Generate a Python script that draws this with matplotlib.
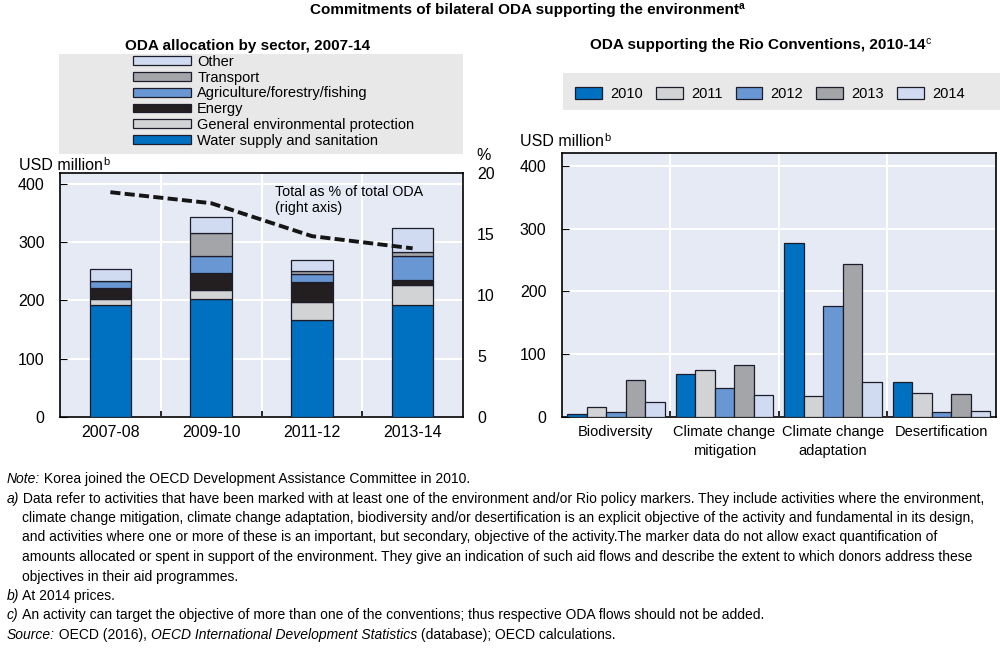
import matplotlib
matplotlib.use('Agg')
import matplotlib.pyplot as plt
import numpy as np
from matplotlib.patches import Rectangle
from matplotlib.transforms import IdentityTransform

# dados - painel esquerdo (USD milhoes, precos de 2014)
periodos = ['2007-08', '2009-10', '2011-12', '2013-14']
agua = [193, 202, 167, 192]
protecao_geral = [10, 16, 30, 35]
energia = [18, 30, 35, 8]
agricultura = [12, 28, 14, 42]
transporte = [1, 40, 5, 7]
outros = [21, 27, 19, 41]
pct_total_oda = [18.4, 17.5, 14.8, 13.8]

# dados - painel direito (Convencoes do Rio)
convencoes = ['Biodiversity', 'Climate change\nmitigation', 'Climate change\nadaptation', 'Desertification']
anos = ['2010', '2011', '2012', '2013', '2014']
v2010 = [5, 68, 277, 55]
v2011 = [16, 74, 33, 38]
v2012 = [7, 46, 177, 8]
v2013 = [58, 83, 244, 36]
v2014 = [23, 34, 56, 9]

W, H = 1000, 648

AZUL = '#0070c0'
CINZA_CLARO = '#d2d3d4'
PRETO = '#231f20'
AZUL_MEDIO = '#6897d3'
CINZA = '#a3a5a8'
LAVANDA = '#d0dbf1'
FUNDO = '#e5eaf5'
FUNDO_LEG = '#e8e8e8'
BORDA = '#1c1c2a'

plt.rcParams['font.family'] = ['Liberation Sans', 'DejaVu Sans']
plt.rcParams['axes.linewidth'] = 1.2


def linha_texto(fig, x, y, partes, ha='left'):
    # desenha pedacos de texto em sequencia (y em pixels a partir do topo)
    rend = fig.canvas.get_renderer()
    textos = []
    pos = 0
    for s, est in partes:
        est = dict(est)
        dy = est.pop('dy', 0)
        t = fig.text(0, H - y + dy, s, transform=IdentityTransform(), va='center', **est)
        larg = t.get_window_extent(rend).width
        textos.append((t, pos, dy))
        pos += larg
    x0 = x - pos / 2 if ha == 'center' else x
    for t, p, dy in textos:
        t.set_position((x0 + p, H - y + dy))


def estilo_eixo(ax, tam_x=11.5):
    ax.set_facecolor(FUNDO)
    ax.set_xlim(-0.5, 3.5)
    ax.set_ylim(0, 420)
    ax.set_yticks([0, 100, 200, 300, 400])
    ax.tick_params(axis='y', direction='in', length=5, pad=11, labelsize=11.5)
    ax.set_xticks(np.arange(4))
    ax.tick_params(axis='x', which='major', length=0, pad=6, labelsize=tam_x)
    ax.set_xticks([0.5, 1.5, 2.5], minor=True)
    ax.tick_params(axis='x', which='minor', direction='in', length=4, width=1.2)
    ax.grid(axis='y', color='white', linewidth=1.5, zorder=0)
    ax.grid(axis='x', which='minor', color='white', linewidth=1.5, zorder=0)
    ax.set_axisbelow(True)
    for sp in ax.spines.values():
        sp.set_color('black')


fig = plt.figure(figsize=(10, 6.48), dpi=100)

# ---- painel esquerdo: barras empilhadas ----
ax1 = fig.add_axes([0.060, 0.357, 0.403, 0.3765])
estilo_eixo(ax1)
x = np.arange(len(periodos))
series = [
    (agua, 'Water supply and sanitation', AZUL),
    (protecao_geral, 'General environmental protection', CINZA_CLARO),
    (energia, 'Energy', PRETO),
    (agricultura, 'Agriculture/forestry/fishing', AZUL_MEDIO),
    (transporte, 'Transport', CINZA),
    (outros, 'Other', LAVANDA),
]
base = np.zeros(len(periodos))
handles1 = []
for vals, rotulo, cor in series:
    b = ax1.bar(x, vals, 0.41, bottom=base, color=cor, edgecolor=BORDA,
                linewidth=0.9, label=rotulo, zorder=3)
    handles1.append(b)
    base += np.array(vals)
ax1.set_xticklabels(periodos)

ax1b = ax1.twinx()
ax1b.plot(x, pct_total_oda, color='#151515', linewidth=2.8, dashes=(2.6, 1.1),
          solid_capstyle='butt', dash_capstyle='butt')
ax1b.set_ylim(0, 20)
ax1b.set_yticks([0, 5, 10, 15, 20])
ax1b.tick_params(axis='y', length=0, pad=10, labelsize=11.5)
for sp in ax1b.spines.values():
    sp.set_visible(False)
ax1b.text(1.63, 19.0, 'Total as % of total ODA\n(right axis)', fontsize=10.3,
          va='top', ha='left', linespacing=1.2)

# ---- painel direito: barras agrupadas ----
ax2 = fig.add_axes([0.5617, 0.357, 0.434, 0.4064])
estilo_eixo(ax2, tam_x=10.5)
valores_anos = [v2010, v2011, v2012, v2013, v2014]
cores_anos = [AZUL, CINZA_CLARO, AZUL_MEDIO, CINZA, LAVANDA]
larg = 0.18
handles2 = []
for i, (vals, cor, ano) in enumerate(zip(valores_anos, cores_anos, anos)):
    b = ax2.bar(x + (i - 2) * larg, vals, larg, color=cor, edgecolor=BORDA,
                linewidth=0.9, label=ano, zorder=3)
    handles2.append(b)
ax2.set_xticklabels(convencoes, linespacing=1.45)

# ---- legendas ----
fig.add_artist(Rectangle((0.059, 1 - 154 / H), 0.404, 100 / H, transform=fig.transFigure,
                         facecolor=FUNDO_LEG, edgecolor='none', zorder=0))
fig.legend(handles1[::-1], [s[1] for s in series][::-1], loc='upper left',
           bbox_to_anchor=(0.133, 1 - 55 / H), frameon=False, fontsize=10.5,
           handlelength=4.0, handleheight=0.55, handletextpad=0.4,
           labelspacing=0.12, borderpad=0, borderaxespad=0)

fig.add_artist(Rectangle((0.563, 1 - 110 / H), 0.437, 37 / H, transform=fig.transFigure,
                         facecolor=FUNDO_LEG, edgecolor='none', zorder=0))
fig.legend(handles2, anos, loc='center left', ncol=5,
           bbox_to_anchor=(0.575, 1 - 94 / H), frameon=False, fontsize=10.5,
           handlelength=1.85, handleheight=0.9, handletextpad=0.55,
           columnspacing=0.9, borderpad=0, borderaxespad=0)

# ---- titulos ----
sup = {'fontsize': 7.5, 'dy': 4}
linha_texto(fig, 527, 10, [('Commitments of bilateral ODA supporting the environment',
                            {'fontsize': 11, 'fontweight': 'bold'}),
                           ('a', dict(sup, fontweight='bold'))], ha='center')
linha_texto(fig, 248, 46, [('ODA allocation by sector, 2007-14',
                            {'fontsize': 11, 'fontweight': 'bold'})], ha='center')
linha_texto(fig, 760, 45, [('ODA supporting the Rio Conventions, 2010-14',
                            {'fontsize': 11, 'fontweight': 'bold'}),
                           ('c', dict(sup, fontsize=7.5))], ha='center')

linha_texto(fig, 19, 166, [('USD million', {'fontsize': 11.5}), ('b', dict(sup, fontsize=8))])
linha_texto(fig, 520, 142, [('USD million', {'fontsize': 11.5}), ('b', dict(sup, fontsize=8))])
linha_texto(fig, 476, 155, [('%', {'fontsize': 11.5})])

# ---- notas ----
it = {'fontsize': 10, 'fontstyle': 'italic'}
nm = {'fontsize': 10}
y0 = 479
dy = 19.5
notas = [
    (7, [('Note:', it), (' Korea joined the OECD Development Assistance Committee in 2010.', nm)]),
    (7, [('a)', it), (' Data refer to activities that have been marked with at least one of the environment and/or Rio policy markers. They include activities where the environment,', nm)]),
    (22, [('climate change mitigation, climate change adaptation, biodiversity and/or desertification is an explicit objective of the activity and fundamental in its design,', nm)]),
    (22, [('and activities where one or more of these is an important, but secondary, objective of the activity.The marker data do not allow exact quantification of', nm)]),
    (22, [('amounts allocated or spent in support of the environment. They give an indication of such aid flows and describe the extent to which donors address these', nm)]),
    (22, [('objectives in their aid programmes.', nm)]),
    (7, [('b)', it), (' At 2014 prices.', nm)]),
    (7, [('c)', it), (' An activity can target the objective of more than one of the conventions; thus respective ODA flows should not be added.', nm)]),
    (7, [('Source:', it), (' OECD (2016), ', nm), ('OECD International Development Statistics', it),
         (' (database); OECD calculations.', nm)]),
]
for i, (xx, partes) in enumerate(notas):
    linha_texto(fig, xx, y0 + i * dy, partes)

fig.savefig('out.png', dpi=100)
